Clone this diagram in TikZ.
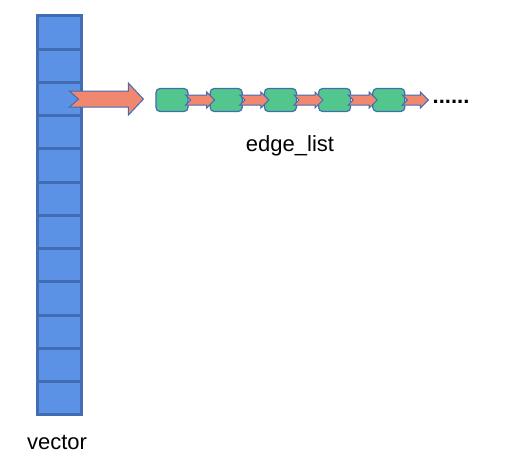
\documentclass[tikz,border=0pt]{standalone}
\usepackage{fontspec}
\setmainfont{Liberation Sans}
\usetikzlibrary{positioning,calc}

\definecolor{cellblue}{RGB}{91,146,229}
\definecolor{lineblue}{RGB}{66,108,180}
\definecolor{itemgreen}{RGB}{83,198,142}
\definecolor{arrowred}{RGB}{241,135,110}

% block arrow with notched tail: from, to, body half, head half, head length, notch
\newcommand{\notcharrow}[6]{%
    \draw[blockarrow] let \p1=(#1), \p2=(#2) in
        (\x1,\y1-#3pt) -- (\x2-#5pt,\y1-#3pt) -- (\x2-#5pt,\y1-#4pt) -- (\x2,\y1)
        -- (\x2-#5pt,\y1+#4pt) -- (\x2-#5pt,\y1+#3pt) -- (\x1,\y1+#3pt)
        -- (\x1+#6pt,\y1) -- cycle;}

\begin{document}
\begin{tikzpicture}[x=1pt, y=-1pt,
    cell/.style={rectangle, draw=lineblue, fill=cellblue, line width=3pt, minimum width=44pt, minimum height=33.25pt, inner sep=0pt},
    item/.style={rectangle, draw=lineblue, fill=itemgreen, line width=1.2pt, rounded corners=4pt, minimum width=32pt, minimum height=23pt, inner sep=0pt},
    blockarrow/.style={draw=lineblue, fill=arrowred, line width=1pt, line join=miter},
    label/.style={font=\fontsize{22}{26}\selectfont}
]
    \useasboundingbox (0,0) rectangle (505,461);

    % Vector
    \foreach \i in {0,...,11}
        \node[cell] (v\i) at (59.5,{32.6+33.25*\i}) {};
    \node[label] (vector) at (57,442) {vector};

    % Edge list
    \node[item] (e1) at (172,100) {};
    \node[item, right=21pt of e1] (e2) {};
    \node[item, right=21pt of e2] (e3) {};
    \node[item, right=21pt of e3] (e4) {};
    \node[item, right=21pt of e4] (e5) {};
    \node[font=\fontsize{22}{26}\selectfont\bfseries, inner sep=0pt] (dots) at (451,102) {......};
    \node[label] (edgelist) at (290,146) {edge\_list};

    % Arrows
    \notcharrow{$(v2.center)+(10,0)$}{$(e1.west)+(-12,0)$}{8}{16}{15}{9}
    \foreach \a/\b in {e1/e2, e2/e3, e3/e4, e4/e5} {
        \notcharrow{$(\a.east)+(-3,0)$}{$(\b.west)+(5,0)$}{5}{8}{8}{5}
    }
    \notcharrow{$(e5.east)+(-3,0)$}{$(e5.east)+(23,0)$}{5}{8}{8}{5}

\end{tikzpicture}
\end{document}
